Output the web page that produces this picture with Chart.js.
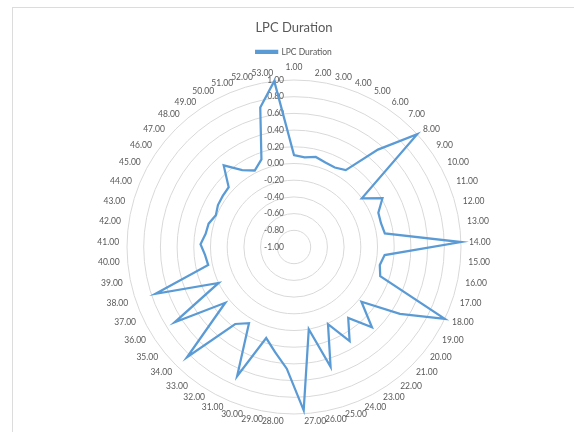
<!DOCTYPE html>
<html>
<head>
<meta charset="utf-8">
<script src="https://cdn.jsdelivr.net/npm/chart.js@4/dist/chart.umd.min.js"></script>
<style>
  html, body { margin: 0; padding: 0; background: #fff; overflow: hidden; width: 574px; height: 432px; }
  #frame { position: absolute; left: 12px; top: 7px; width: 640px; height: 500px; border: 1px solid #dcdcdc; box-sizing: border-box; }
  #wrap { position: absolute; left: 0; top: 0; width: 574px; height: 432px; }
</style>
</head>
<body>
<div id="frame"></div>
<div id="wrap"><canvas id="chart" width="574" height="432"></canvas></div>
<script>
// Category labels around the radar
const categories = [
  '1.00','2.00','3.00','4.00','5.00','6.00','7.00','8.00','9.00','10.00',
  '11.00','12.00','13.00','14.00','15.00','16.00','17.00','18.00','19.00','20.00',
  '21.00','22.00','23.00','24.00','25.00','26.00','27.00','28.00','29.00','30.00',
  '31.00','32.00','33.00','34.00','35.00','36.00','37.00','38.00','39.00','40.00',
  '41.00','42.00','43.00','44.00','45.00','46.00','47.00','48.00','49.00','50.00',
  '51.00','52.00','53.00'
];

// LPC Duration series
const lpcDuration = [
  0.10, 0.08, 0.11, 0.08, 0.07, 0.11, 0.54, 1.00, 0.00, 0.21,
  0.09, 0.08, 0.10, 1.00, 0.09, 0.05, 0.09, 1.00, 0.50, 0.04,
  0.34, 0.07, 0.31, 0.01, 0.50, 0.00, 0.96, 0.46, 0.28, 0.14,
  0.69, 0.06, 0.16, 0.84, 0.06, 0.69, 0.00, 0.75, 0.05, 0.07,
  0.12, 0.07, 0.06, 0.01, 0.04, 0.05, 0.06, 0.29, 0.11, 0.03,
  0.12, 0.72, 1.00
];

// Radial axis tick values
const tickValues = [-1.00, -0.80, -0.60, -0.40, -0.20, 0.00, 0.20, 0.40, 0.60, 0.80, 1.00];

const textColor = '#595959';
const fontFamily = 'Lato, "Open Sans", sans-serif';
const labelFont = '8.5px ' + fontFamily;

// Value labels on the vertical axis, right-aligned just left of the centre
const radialTickLabels = {
  id: 'radialTickLabels',
  beforeDatasetsDraw(chart) {
    const scale = chart.scales.r;
    const ctx = chart.ctx;
    ctx.save();
    ctx.font = labelFont;
    ctx.fillStyle = textColor;
    ctx.textAlign = 'right';
    ctx.textBaseline = 'middle';
    tickValues.forEach(v => {
      const d = scale.getDistanceFromCenterForValue(v);
      ctx.fillText(v.toFixed(2), scale.xCenter - 10, scale.yCenter - d);
    });
    ctx.restore();
  }
};

// Category labels just outside the outer ring, vertically centred on their spoke
const spokeLabels = {
  id: 'spokeLabels',
  beforeDatasetsDraw(chart) {
    const scale = chart.scales.r;
    const ctx = chart.ctx;
    ctx.save();
    ctx.font = labelFont;
    ctx.fillStyle = textColor;
    categories.forEach((label, i) => {
      const pos = scale.getPointPosition(i, scale.drawingArea + 8);
      const deg = Math.round((scale.getIndexAngle(i) * 180 / Math.PI) % 360);
      ctx.textAlign = (deg === 0 || deg === 180) ? 'center' : (deg < 180 ? 'left' : 'right');
      ctx.textBaseline = deg === 0 ? 'bottom' : (deg === 180 ? 'top' : 'middle');
      ctx.fillText(label, pos.x, pos.y);
    });
    ctx.restore();
  }
};

new Chart(document.getElementById('chart'), {
  type: 'radar',
  data: {
    labels: categories,
    datasets: [{
      label: 'LPC Duration',
      data: lpcDuration,
      borderColor: '#5B9BD5',
      backgroundColor: '#5B9BD5',
      borderWidth: 2.25,
      pointRadius: 0,
      pointHoverRadius: 0,
      fill: false,
      tension: 0,
      clip: false
    }]
  },
  options: {
    responsive: false,
    animation: false,
    events: [],
    layout: { padding: { top: 0, bottom: 0, left: 127, right: 113 } },
    plugins: {
      title: {
        display: true,
        text: 'LPC Duration',
        color: textColor,
        font: { family: fontFamily, size: 13, weight: 'normal' },
        padding: { top: 20, bottom: 6 }
      },
      legend: {
        display: true,
        maxHeight: 21,
        labels: {
          color: textColor,
          font: { family: fontFamily, size: 8.5 },
          boxWidth: 21,
          boxHeight: 2,
          padding: 6
        }
      },
      tooltip: { enabled: false }
    },
    scales: {
      r: {
        min: -1,
        max: 1,
        ticks: { stepSize: 0.2, display: false },
        grid: { circular: true, color: '#d9d9d9', lineWidth: 1 },
        angleLines: { display: false },
        pointLabels: { display: false }
      }
    }
  },
  plugins: [radialTickLabels, spokeLabels]
});
</script>
</body>
</html>
